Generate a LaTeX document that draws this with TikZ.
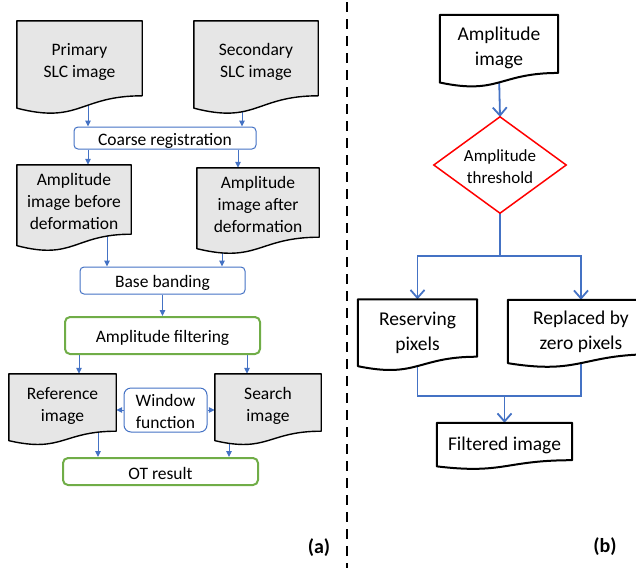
\documentclass[tikz,border=0pt]{standalone}
\usepackage{fontspec}
\setmainfont{Carlito}
\usetikzlibrary{arrows.meta,calc,backgrounds}
\pgfdeclarelayer{links}
\pgfsetlayers{links,background,main}

\definecolor{flowblue}{RGB}{68,114,196}
\definecolor{flowgreen}{RGB}{112,173,71}
\definecolor{docgrey}{RGB}{230,230,230}
\definecolor{flowred}{RGB}{255,0,0}

% Document-shaped box: straight top and sides, wavy bottom edge below the node box
\newcommand\pagedoc[2]{%
  \begin{pgfonlayer}{background}
    \path[#2] let \p1=(#1.north west), \p2=(#1.south east),
      \n1={\y1-\y2}, \n2={(\x1+\x2)/2} in
      (\p1) -- (\x2,\y1) -- (\p2)
      .. controls ({\n2*1pt},\y2) and ({\n2*1pt},{\y2-0.381*\n1*1pt})
      .. (\x1,{\y2-0.1646*\n1*1pt}) -- cycle;
  \end{pgfonlayer}}

% invisible struts that push a multi-line label slightly downwards
\newcommand\lowL{\rule{0pt}{19pt}}
\newcommand\lowLL{\rule{0pt}{16pt}}
\newcommand\lowR{\rule{0pt}{22.5pt}}

\tikzset{
  textdown/.style={execute at begin node={\rule{0pt}{#1}}},
  docL/.style={font=\fontsize{17.5}{22}\selectfont, align=center, inner sep=0pt, textdown=18.5pt},
  docR/.style={font=\fontsize{19.5}{25}\selectfont, align=center, inner sep=0pt, textdown=21.5pt},
  greydoc/.style={fill=docgrey, draw=black, line width=1.4pt, line join=round},
  whitedoc/.style={fill=white, draw=black, line width=2pt, line join=round},
  procB/.style={draw=flowblue, line width=1pt, rounded corners=4pt,
    font=\fontsize{17.5}{22}\selectfont, align=center, inner sep=0pt, textdown=17pt},
  procG/.style={draw=flowgreen, line width=2pt, rounded corners=5pt,
    font=\fontsize{17.5}{22}\selectfont, align=center, inner sep=0pt, textdown=17pt},
  arrA/.style={draw=flowblue, line width=1pt, -{Triangle[length=6pt,width=5.5pt]}},
  arrB/.style={draw=flowblue, line width=1.8pt,
    -{Straight Barb[length=8pt,width=14pt,line width=1.8pt]}},
  lineB/.style={draw=flowblue, line width=1.8pt},
  panel/.style={font=\fontsize{20}{24}\selectfont\bfseries, inner sep=0pt},
}

\begin{document}
\begin{tikzpicture}[x=1pt,y=-1pt]
\useasboundingbox (0,0) rectangle (636,568);
\clip (0,0) rectangle (636,568);

% ---------------- panel (a) ----------------
\node[docL, minimum width=125, minimum height=74.6] (prim) at (79.5,58.3) {\lowL Primary\\SLC image};
\node[docL, minimum width=124, minimum height=74.6] (sec) at (256,58.3) {\lowL Secondary\\SLC image};
\node[procB, minimum width=182, minimum height=22] (coarse) at (165,138) {Coarse registration};
\node[docL, minimum width=114, minimum height=69] (ampb) at (74,199.5) {\lowLL Amplitude\\image before\\deformation};
\node[docL, minimum width=122, minimum height=69] (ampa) at (258,202.5) {\lowLL Amplitude\\image after\\deformation};
\node[procB, minimum width=165, minimum height=27] (base) at (162.5,280.5) {Base banding};
\node[procG, minimum width=195, minimum height=37] (af) at (162.5,335.5) {Amplitude filtering};
\node[docL, minimum width=107, minimum height=57] (ref) at (62.5,402.5) {\lowL Reference\\image};
\node[docL, minimum width=106, minimum height=57] (search) at (268,402.5) {\lowL Search\\image};
\node[procB, rounded corners=7pt, minimum width=83, minimum height=44] (win) at (165.5,410) {\lowLL Window\\function};
\node[procG, minimum width=195, minimum height=27] (ot) at (160.5,471.5) {OT result};
\node[panel] (la) at (319,548) {(a)};

\pagedoc{prim}{greydoc}
\pagedoc{sec}{greydoc}
\pagedoc{ampb}{greydoc}
\pagedoc{ampa}{greydoc}
\pagedoc{ref}{greydoc}
\pagedoc{search}{greydoc}

\begin{pgfonlayer}{links}
  \draw[arrA] ([xshift=8.5]prim.south) -- ([xshift=8.5]prim.south |- coarse.north);
  \draw[arrA] ([xshift=-14]sec.south) -- ([xshift=-14]sec.south |- coarse.north);
  \draw[arrA] ([xshift=14]ampb.north |- coarse.south) -- ([xshift=14]ampb.north);
  \draw[arrA] ([xshift=-20]ampa.north |- coarse.south) -- ([xshift=-20]ampa.north);
  \draw[arrA] ([xshift=33]ampb.south) -- ([xshift=33]ampb.south |- base.north);
  \draw[arrA] ([xshift=-36]ampa.south) -- ([xshift=-36]ampa.south |- base.north);
  \draw[arrA] (base.south) -- (af.north);
  \draw[arrA] ([xshift=16.5]ref.north |- af.south) -- ([xshift=16.5]ref.north);
  \draw[arrA] ([xshift=-21]search.north |- af.south) -- ([xshift=-21]search.north);
  \draw[arrA] (win.west) -- (win.west -| ref.east);
  \draw[arrA] (win.east) -- (win.east -| search.west);
  \draw[arrA] ([xshift=35.5]ref.south) -- ([xshift=35.5]ref.south |- ot.north);
  \draw[arrA] ([xshift=-39]search.south) -- ([xshift=-39]search.south |- ot.north);
\end{pgfonlayer}

% separator between the panels
\draw[line width=2.4pt, dash pattern=on 10pt off 7pt] (347,2) -- (347,568);

% ---------------- panel (b) ----------------
\node[docR, minimum width=118, minimum height=57.7] (amp) at (499,43.9) {\lowR Amplitude\\image};
\node[font=\fontsize{17}{22}\selectfont, align=center, inner sep=0pt,
      minimum width=132, minimum height=96] (thr) at (500,165) {\rule{0pt}{14.5pt}Amplitude\\threshold};
\draw[draw=flowred, line width=1.5pt] (thr.north) -- (thr.east) -- (thr.south) -- (thr.west) -- cycle;
\coordinate (split) at (500,256);
\node[docR, minimum width=119, minimum height=57] (res) at (417.5,328) {\lowR Reserving\\pixels};
\node[docR, minimum width=146, minimum height=54] (rep) at (581,327) {\lowR Replaced by\\zero pixels};
\node[docR, minimum width=135, minimum height=37] (filt) at (504.5,441.5) {Filtered image};
\coordinate (join) at (504.5,396);
\node[panel] (lb) at (605,547) {(b)};

\pagedoc{amp}{whitedoc}
\pagedoc{res}{whitedoc}
\pagedoc{rep}{whitedoc}
\pagedoc{filt}{whitedoc}

\begin{pgfonlayer}{links}
  \draw[arrB] (amp.south) -- (thr.north);
  \draw[lineB] (thr.south) -- (split);
  \draw[arrB] (split) -| (res.north);
  \draw[arrB] (split) -| (rep.north);
  \draw[lineB] (res.south) |- (join) -| (rep.south);
  \draw[arrB] (join) -- (filt.north);
\end{pgfonlayer}
\end{tikzpicture}
\end{document}
